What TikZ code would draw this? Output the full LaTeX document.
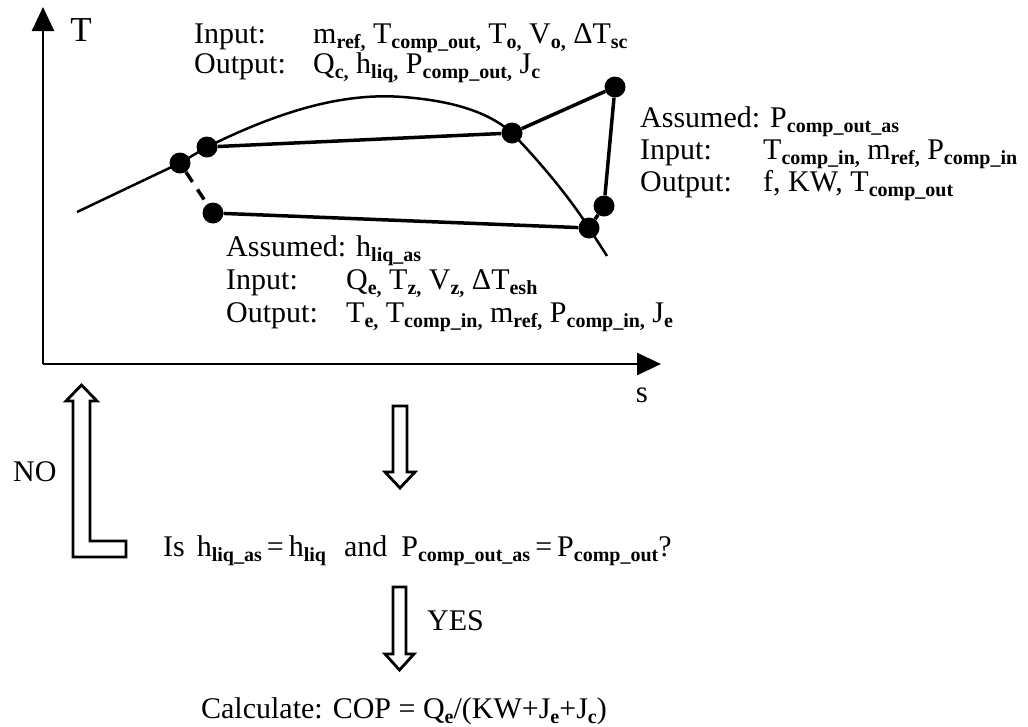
\documentclass[tikz,border=0pt]{standalone}
\usepackage{fontspec}
\setmainfont{Liberation Serif}
\usetikzlibrary{arrows.meta}
\newcommand\sbs[1]{\raisebox{-5pt}{\fontsize{20}{20}\selectfont\bfseries #1}}
\tikzset{
  txt/.style={anchor=base west, inner sep=0pt, font=\fontsize{30}{32}\selectfont},
  dot/.style={circle, fill=black, inner sep=0pt, minimum size=21pt},
  axis/.style={line width=2.5pt, -{Triangle[length=24pt,width=22pt]}},
  cyc/.style={line width=3.5pt},
  sat/.style={line width=2.5pt},
  hollow/.style={line width=2.8pt, fill=white, line join=miter}
}
\begin{document}
\begin{tikzpicture}[x=1pt,y=-1pt]
\useasboundingbox (0,0) rectangle (1028,726);
% axes
\coordinate (O) at (43,364);
\coordinate (Ty) at (43,7);
\coordinate (Sx) at (661,364);
\draw[axis] (O) -- (Ty);
\draw[axis] (O) -- (Sx);
\node[font=\fontsize{35}{35}\selectfont, inner sep=0pt] (Tlab) at (81,30) {T};
\node[font=\fontsize{31}{31}\selectfont, inner sep=0pt] (slab) at (642,395) {s};
% cycle points
\node[dot] (A) at (180,163) {};
\node[dot] (B) at (207,147) {};
\node[dot] (C) at (213,213) {};
\node[dot] (D) at (512,133) {};
\node[dot] (E) at (615,87) {};
\node[dot] (F) at (604,206) {};
\node[dot] (G) at (589,228) {};
\coordinate (s0) at (77,212);
\coordinate (s1) at (607,256);
% saturation dome
\draw[sat] (s0) -- (A.center) -- (B.center) .. controls (290,106) and (350,93) .. (403,97)
  .. controls (455,101) and (490,113) .. (D.center) .. controls (540,162) and (570,198) .. (G.center) -- (s1);
% cycle lines
\draw[cyc] (B) -- (D);
\draw[cyc] (D) -- (E);
\draw[cyc] (E) -- (F);
\draw[cyc] (F) -- (G);
\draw[cyc] (G) -- (C);
\draw[line width=3.5pt, dash pattern=on 12pt off 9pt] (A) -- (C);
% condenser text
\node[txt] (c1) at (194,43) {Input:};
\node[txt] (c1v) at (313,43) {m\sbs{ref,} T\sbs{comp\_out,} T\sbs{o,} V\sbs{o,} ΔT\sbs{sc}};
\node[txt] (c2) at (194,73) {Output:};
\node[txt] (c2v) at (313,73) {Q\sbs{c,} h\sbs{liq,} P\sbs{comp\_out,} J\sbs{c}};
% compressor text
\node[txt] (k0) at (640,127) {Assumed: P\sbs{comp\_out\_as}};
\node[txt] (k1) at (640,159) {Input:};
\node[txt] (k1v) at (763,159) {T\sbs{comp\_in,} m\sbs{ref,} P\sbs{comp\_in}};
\node[txt] (k2) at (640,191) {Output:};
\node[txt] (k2v) at (763,191) {f, KW, T\sbs{comp\_out}};
% evaporator text
\node[txt] (e0) at (226,256) {Assumed: h\sbs{liq\_as}};
\node[txt] (e1) at (226,289) {Input:};
\node[txt] (e1v) at (346,289) {Q\sbs{e,} T\sbs{z,} V\sbs{z,} ΔT\sbs{esh}};
\node[txt] (e2) at (226,322) {Output:};
\node[txt] (e2v) at (346,322) {T\sbs{e,} T\sbs{comp\_in,} m\sbs{ref,} P\sbs{comp\_in,} J\sbs{e}};
% flow part
\draw[hollow] (393,406) -- (407,406) -- (407,472) -- (415,472) -- (400,488) -- (385,472) -- (393,472) -- cycle;
\node[txt] (q) at (163,556) {Is\hspace{12pt}h\sbs{liq\_as}\hspace{5pt}=\hspace{5pt}h\sbs{liq}\hspace{18pt}and\hspace{14pt}P\sbs{comp\_out\_as}\hspace{5pt}=\hspace{5pt}P\sbs{comp\_out}?};
\draw[hollow] (393,587) -- (406,587) -- (406,654) -- (414,654) -- (399.5,670) -- (385,654) -- (393,654) -- cycle;
\node[txt] (yes) at (427,630) {YES};
\node[txt, anchor=base east] (cop) at (607,718) {Calculate: COP = Q\sbs{e}/(KW+J\sbs{e}+J\sbs{c})};
\draw[hollow] (73,557) -- (126,557) -- (126,541) -- (90,541) -- (90,401) -- (97,401) -- (81.5,385) -- (66,401) -- (73,401) -- cycle;
\node[txt, anchor=west] (no) at (13,472) {NO};
\end{tikzpicture}
\end{document}
